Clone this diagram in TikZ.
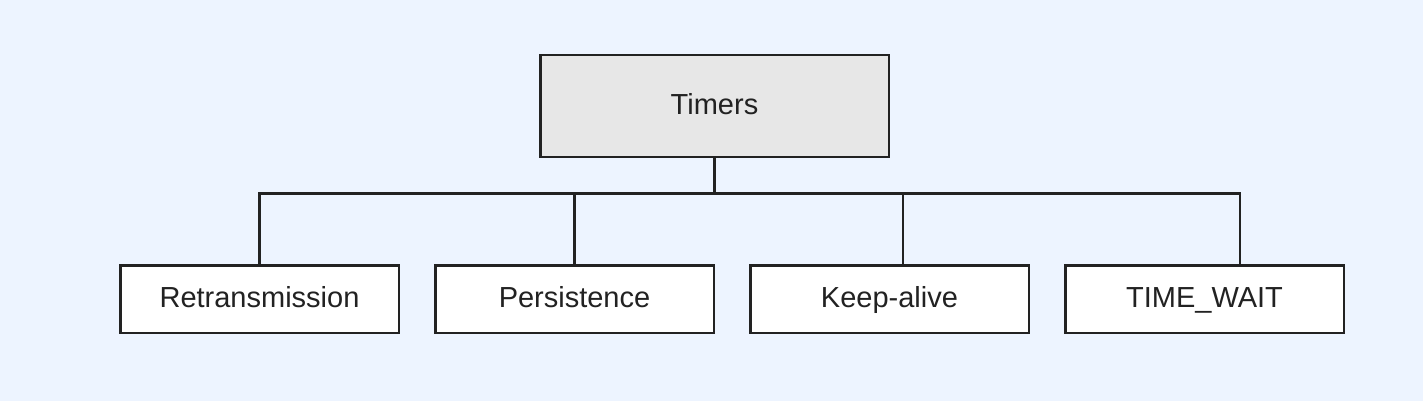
\documentclass[tikz,border=0pt]{standalone}
\usepackage{fontspec}
\setmainfont{Liberation Sans}
\definecolor{bgc}{HTML}{EDF4FF}
\definecolor{rootfill}{HTML}{E7E7E7}
\definecolor{ink}{HTML}{222222}
\begin{document}
\begin{tikzpicture}[x=1pt,y=-1pt,
  box/.style={draw=ink, line width=2.5pt, rectangle, inner sep=0pt,
    text=ink, text height=22pt, text depth=5pt,
    font=\fontsize{29}{34}\selectfont},
  rootbox/.style={box, fill=rootfill, minimum width=348.5pt, minimum height=101.5pt},
  leafbox/.style={box, fill=white, minimum width=278.5pt, minimum height=67.5pt},
  link/.style={draw=ink, line width=2.5pt, line join=miter}]
\fill[bgc] (0,0) rectangle (1423,401);
\useasboundingbox (0,0) rectangle (1423,401);
\node[rootbox] (timers) at (714.5,106) {Timers};
\node[leafbox] (r) at (259.5,299) {Retransmission};
\node[leafbox] (p) at (574.5,299) {Persistence};
\node[leafbox] (k) at (889.5,299) {Keep-alive};
\node[leafbox] (t) at (1204.5,299) {TIME\_WAIT};
\coordinate (c1) at (259.5,193.5);
\coordinate (c2) at (574.5,193.5);
\coordinate (c3) at (903,193.5);
\coordinate (c4) at (1240,193.5);
\draw[link] (timers.south) -- (timers.south |- c1);
\draw[link] (c1 |- r.north) -- (c1) -- (c4) -- (c4 |- t.north);
\draw[link] (c2) -- (c2 |- p.north);
\draw[link] (c3) -- (c3 |- k.north);
\end{tikzpicture}
\end{document}
